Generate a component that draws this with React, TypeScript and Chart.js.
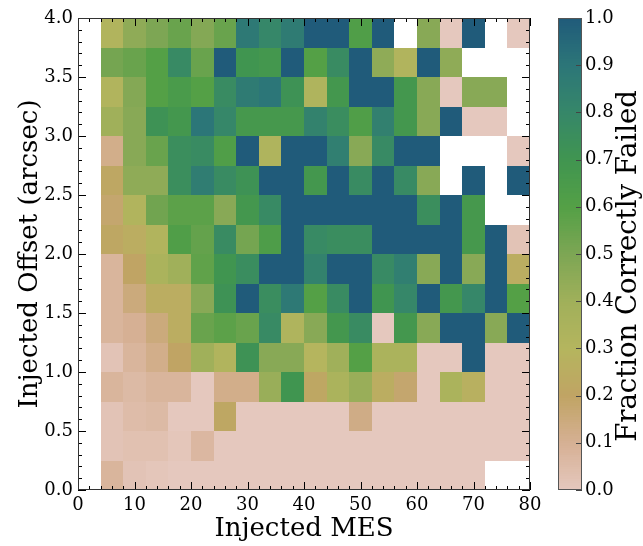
import React, { useEffect, useRef } from "react";
import { Chart, registerables } from "chart.js";
Chart.register(...registerables);

// ---- data ----
const mesBinStart = [4, 8, 12, 16, 20, 24, 28, 32, 36, 40, 44, 48, 52, 56, 60, 64, 68, 72, 76];
const MES_BIN_WIDTH = 4;
const offsetBinStart = [0, 0.25, 0.5, 0.75, 1.0, 1.25, 1.5, 1.75, 2.0, 2.25, 2.5, 2.75, 3.0, 3.25, 3.5, 3.75];
const OFFSET_BIN_WIDTH = 0.25;

const xTickValues = [0, 10, 20, 30, 40, 50, 60, 70, 80];
const yTickValues = [0, 0.5, 1.0, 1.5, 2.0, 2.5, 3.0, 3.5, 4.0];
const cbTickValues = [0, 0.1, 0.2, 0.3, 0.4, 0.5, 0.6, 0.7, 0.8, 0.9, 1.0];

// fraction correctly failed, one array per offset row (null = no data)
const row0_00 = [0.08, 0.02, 0.01, 0, 0, 0, 0, 0, 0, 0, 0, 0, 0, 0, 0, 0, 0, null, null];
const row0_25 = [0.02, 0.03, 0.03, 0.01, 0.07, 0, 0, 0, 0, 0, 0, 0, 0, 0, 0, 0, 0, 0, 0];
const row0_50 = [0.02, 0.05, 0.06, 0, 0, 0.22, 0, 0, 0, 0, 0, 0.13, 0, 0, 0, 0, 0, 0, 0];
const row0_75 = [0.08, 0.06, 0.08, 0.08, 0, 0.12, 0.12, 0.42, 0.7, 0.22, 0.35, 0.42, 0.25, 0.18, 0, 0.35, 0.27, 0, 0];
const row1_00 = [0.02, 0.08, 0.12, 0.2, 0.4, 0.32, 0.72, 0.47, 0.47, 0.3, 0.4, 0.6, 0.35, 0.35, 0, 0, 1, 0, 0];
const row1_25 = [0.08, 0.1, 0.15, 0.25, 0.55, 0.58, 0.55, 0.78, 0.33, 0.47, 0.68, 0.77, 0, 0.68, 0.47, 1, 1, 0.47, 1];
const row1_50 = [0.08, 0.15, 0.25, 0.25, 0.47, 0.72, 1, 0.76, 0.88, 0.6, 0.77, 1, 0.7, 0.8, 1, 0.68, 0.8, 1, 0.6];
const row1_75 = [0.08, 0.2, 0.35, 0.4, 0.57, 0.7, 0.76, 1, 1, 0.83, 1, 1, 0.78, 0.85, 0.47, 1, 0.47, 1, 0.25];
const row2_00 = [0.22, 0.25, 0.32, 0.62, 0.56, 0.77, 0.52, 0.63, 1, 0.78, 0.76, 0.76, 1, 1, 1, 1, 0.67, 1, 0.02];
const row2_25 = [0.18, 0.32, 0.53, 0.58, 0.58, 0.47, 0.68, 0.78, 1, 1, 1, 1, 1, 1, 0.75, 1, 0.67, null, null];
const row2_50 = [0.22, 0.45, 0.45, 0.75, 0.86, 0.77, 0.72, 1, 1, 0.68, 1, 0.77, 1, 0.78, 0.47, null, 1, null, 1];
const row2_75 = [0.12, 0.47, 0.55, 0.75, 0.77, 0.62, 1, 0.33, 1, 1, 0.85, 0.47, 0.78, 1, 1, null, null, null, 0];
const row3_00 = [0.4, 0.47, 0.72, 0.68, 0.9, 0.8, 0.67, 0.67, 0.67, 0.83, 0.76, 0.62, 0.84, 0.68, 0.47, 1, 0, 0, null];
const row3_25 = [0.32, 0.48, 0.6, 0.65, 0.6, 0.77, 0.87, 0.9, 0.72, 0.33, 0.68, 1, 1, 0.68, 0.47, 0, 0.47, 0.47, null];
const row3_50 = [0.52, 0.55, 0.6, 0.78, 0.55, 1, 0.7, 0.68, 1, 0.6, 0.77, 1, 0.45, 0.32, 1, 0.45, null, null, null];
const row3_75 = [0.32, 0.45, 0.5, 0.55, 0.48, 0.55, 0.88, 0.8, 0.87, 1, 1, 0.62, 1, null, 0.47, 0, 1, null, 0];

const fractionRows = [
  row0_00, row0_25, row0_50, row0_75, row1_00, row1_25, row1_50, row1_75,
  row2_00, row2_25, row2_50, row2_75, row3_00, row3_25, row3_50, row3_75,
];

// ---- colormap ----
const cmapStops: [number, number, number][] = [
  [229, 200, 190],
  [214, 176, 148],
  [192, 164, 100],
  [181, 181, 94],
  [160, 176, 90],
  [125, 166, 84],
  [84, 160, 70],
  [64, 149, 80],
  [54, 135, 105],
  [44, 118, 120],
  [32, 91, 122],
];
function cmap(v: number): string {
  const t = Math.max(0, Math.min(1, v)) * (cmapStops.length - 1);
  const i = Math.min(cmapStops.length - 2, Math.floor(t));
  const f = t - i;
  const a = cmapStops[i], b = cmapStops[i + 1];
  const c = a.map((av, k) => Math.round(av + (b[k] - av) * f));
  return `rgb(${c[0]},${c[1]},${c[2]})`;
}

const FONT = "DejaVu Serif";
const TICK_FONT = { family: FONT, size: 18 };
const TITLE_SIZE = 26;
const CB_TITLE_SIZE = 27.5;

function line(ctx: CanvasRenderingContext2D, x0: number, y0: number, x1: number, y1: number) {
  ctx.beginPath();
  ctx.moveTo(x0, y0);
  ctx.lineTo(x1, y1);
  ctx.stroke();
}

const heatPlugin = {
  id: "heat",
  beforeDatasetsDraw(chart: any) {
    const { ctx, scales } = chart;
    const x = scales.x, y = scales.y;
    ctx.save();
    fractionRows.forEach((row, i) => {
      row.forEach((v, j) => {
        if (v === null) return;
        const x0 = Math.round(x.getPixelForValue(mesBinStart[j]));
        const x1 = Math.round(x.getPixelForValue(mesBinStart[j] + MES_BIN_WIDTH));
        const y0 = Math.round(y.getPixelForValue(offsetBinStart[i] + OFFSET_BIN_WIDTH));
        const y1 = Math.round(y.getPixelForValue(offsetBinStart[i]));
        ctx.fillStyle = cmap(v as number);
        ctx.fillRect(x0, y0, x1 - x0, y1 - y0);
      });
    });
    ctx.restore();
  },
  afterDraw(chart: any) {
    const { ctx, chartArea, scales } = chart;
    const { left, right, top, bottom } = chartArea;
    const x = scales.x, y = scales.y;
    ctx.save();
    ctx.strokeStyle = "#000";
    ctx.lineWidth = 1;
    for (let k = 0; k <= 40; k++) {
      const v = k * 2;
      const px = Math.round(x.getPixelForValue(v)) + 0.5;
      const len = v % 10 === 0 ? 8 : 4;
      line(ctx, px, bottom, px, bottom - len);
      line(ctx, px, top, px, top + len);
    }
    for (let k = 0; k <= 40; k++) {
      const v = k / 10;
      const py = Math.round(y.getPixelForValue(v)) + 0.5;
      const len = k % 5 === 0 ? 8 : 4;
      line(ctx, left, py, left + len, py);
      line(ctx, right, py, right - len, py);
    }
    ctx.strokeStyle = "#333";
    ctx.strokeRect(left + 0.5, top + 0.5, right - left - 1, bottom - top - 1);
    // axis titles
    ctx.fillStyle = "#000";
    ctx.font = `${TITLE_SIZE}px "${FONT}"`;
    ctx.textAlign = "center";
    ctx.textBaseline = "middle";
    ctx.fillText("Injected MES", (left + right) / 2, 529);
    ctx.translate(30, (top + bottom) / 2);
    ctx.rotate(-Math.PI / 2);
    ctx.fillText("Injected Offset (arcsec)", 0, 0);
    ctx.restore();
  },
};

const colorbarPlugin = {
  id: "colorbar",
  beforeDatasetsDraw(chart: any) {
    const { ctx, chartArea, scales } = chart;
    const { left, right } = chartArea;
    const y = scales.y;
    ctx.save();
    const steps = 200;
    for (let s = 0; s < steps; s++) {
      const v0 = s / steps, v1 = (s + 1) / steps;
      const p0 = y.getPixelForValue(v0), p1 = y.getPixelForValue(v1);
      ctx.fillStyle = cmap((v0 + v1) / 2);
      ctx.fillRect(left, Math.floor(p1), right - left, Math.ceil(p0) - Math.floor(p1));
    }
    ctx.restore();
  },
  afterDraw(chart: any) {
    const { ctx, chartArea, scales } = chart;
    const { left, right, top, bottom } = chartArea;
    const y = scales.y;
    ctx.save();
    ctx.strokeStyle = "#444";
    ctx.lineWidth = 1;
    cbTickValues.forEach((v) => {
      const py = Math.round(y.getPixelForValue(v)) + 0.5;
      line(ctx, right, py, right - 6, py);
    });
    ctx.strokeStyle = "#555";
    ctx.strokeRect(left + 0.5, top + 0.5, right - left - 1, bottom - top - 1);
    ctx.fillStyle = "#000";
    ctx.font = `${CB_TITLE_SIZE}px "${FONT}"`;
    ctx.textAlign = "center";
    ctx.textBaseline = "middle";
    ctx.translate(89, (top + bottom) / 2 + 12);
    ctx.rotate(-Math.PI / 2);
    ctx.fillText("Fraction Correctly Failed", 0, 0);
    ctx.restore();
  },
};

export default function App() {
  const mainRef = useRef<HTMLCanvasElement>(null);
  const cbRef = useRef<HTMLCanvasElement>(null);

  useEffect(() => {
    const main = new Chart(mainRef.current!, {
      type: "scatter",
      data: { datasets: [{ data: [], pointRadius: 0 }] },
      options: {
        animation: false,
        responsive: false,
        events: [],
        devicePixelRatio: 1,
        layout: { padding: { left: 8, right: 113, top: 18, bottom: 0 } },
        plugins: { legend: { display: false }, tooltip: { enabled: false } },
        scales: {
          x: {
            type: "linear",
            min: 0,
            max: 80,
            afterBuildTicks: (s: any) => {
              s.ticks = xTickValues.map((v) => ({ value: v }));
            },
            afterFit: (s: any) => {
              s.height = 56;
            },
            grid: { display: false, drawTicks: false },
            border: { display: false },
            ticks: { font: TICK_FONT, color: "#000", padding: 5, maxRotation: 0, autoSkip: false, callback: (v: any) => String(v) },
          },
          y: {
            type: "linear",
            min: 0,
            max: 4,
            afterBuildTicks: (s: any) => {
              s.ticks = yTickValues.map((v) => ({ value: v }));
            },
            afterFit: (s: any) => {
              s.width = 70;
            },
            grid: { display: false, drawTicks: false },
            border: { display: false },
            ticks: { font: TICK_FONT, color: "#000", padding: 5, autoSkip: false, callback: (v: any) => Number(v).toFixed(1) },
          },
        },
      } as any,
      plugins: [heatPlugin],
    });

    const cb = new Chart(cbRef.current!, {
      type: "scatter",
      data: { datasets: [{ data: [], pointRadius: 0 }] },
      options: {
        animation: false,
        responsive: false,
        events: [],
        devicePixelRatio: 1,
        layout: { padding: { left: 18, right: 0, top: 18, bottom: 56 } },
        plugins: { legend: { display: false }, tooltip: { enabled: false } },
        scales: {
          x: { type: "linear", display: false, min: 0, max: 1 },
          y: {
            type: "linear",
            position: "right",
            min: 0,
            max: 1,
            afterBuildTicks: (s: any) => {
              s.ticks = cbTickValues.map((v) => ({ value: v }));
            },
            afterFit: (s: any) => {
              s.width = 61;
            },
            grid: { display: false, drawTicks: false },
            border: { display: false },
            ticks: { font: TICK_FONT, color: "#000", padding: 3, autoSkip: false, callback: (v: any) => Number(v).toFixed(1) },
          },
        },
      } as any,
      plugins: [colorbarPlugin],
    });

    return () => {
      main.destroy();
      cb.destroy();
    };
  }, []);

  return (
    <div style={{ position: "absolute", left: 0, top: 0, width: 643, height: 546, background: "#fff" }}>
      <canvas ref={mainRef} width={643} height={546} style={{ position: "absolute", left: 0, top: 0, width: 643, height: 546 }} />
      <canvas ref={cbRef} width={103} height={546} style={{ position: "absolute", left: 540, top: 0, width: 103, height: 546 }} />
    </div>
  );
}
